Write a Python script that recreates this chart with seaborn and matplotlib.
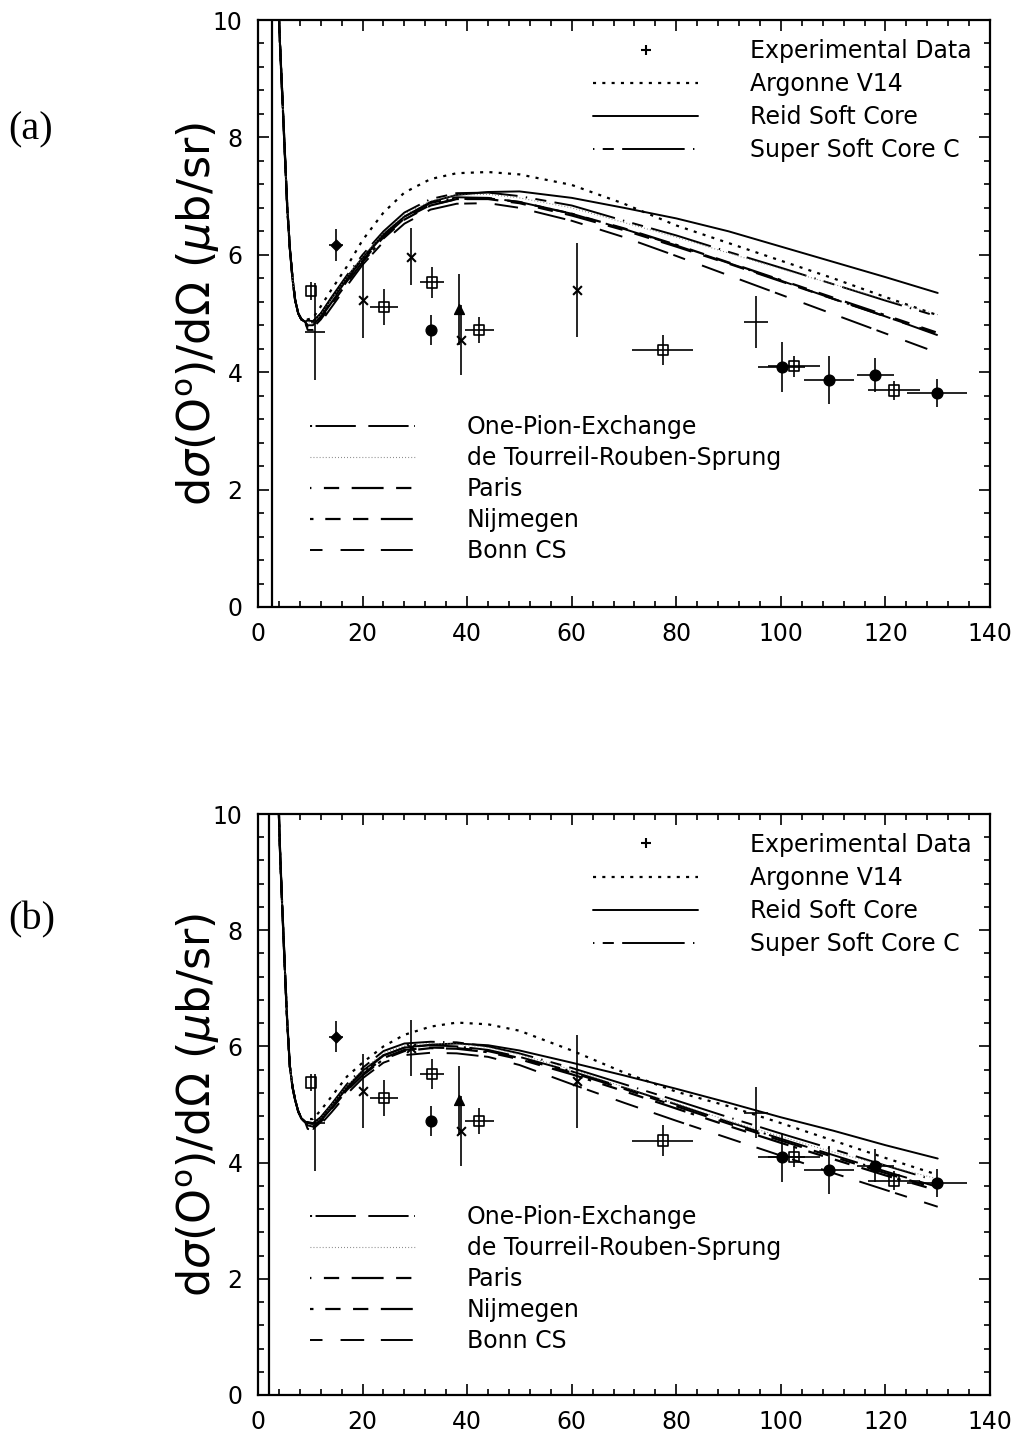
import matplotlib
matplotlib.use("Agg")
import matplotlib.pyplot as plt
import numpy as np
import pandas as pd
import seaborn as sns
from matplotlib.lines import Line2D
from matplotlib.ticker import MultipleLocator

# ---------------- data ----------------
MODELS = ["Argonne V14", "Reid Soft Core", "Super Soft Core C",
          "One-Pion-Exchange", "de Tourreil-Rouben-Sprung",
          "Paris", "Nijmegen", "Bonn CS"]

# steep low-angle wall shared by all models
WALL_X = [3.9, 4.2, 4.5, 4.85, 5.2, 5.6, 6.1, 6.6, 7.1, 7.7, 8.3, 9.0]
WALL_Y_A = [10.3, 9.6, 9.0, 8.3, 7.6, 6.8, 6.1, 5.6, 5.23, 5.0, 4.9, 4.86]
WALL_Y_B = [10.3, 9.4, 8.7, 7.95, 7.2, 6.4, 5.65, 5.3, 5.08, 4.88, 4.76, 4.7]

MODEL_X = [9.5, 10.5, 12, 14, 17, 20, 24, 28, 33, 38, 44, 50, 60, 70, 80, 90, 100, 110, 120, 130]

CURVES_A = {
    "Argonne V14":       [4.90, 4.92, 5.12, 5.40, 5.80, 6.25, 6.72, 7.06, 7.29, 7.39, 7.41, 7.37, 7.19, 6.87, 6.50, 6.20, 5.90, 5.60, 5.28, 4.97],
    "Reid Soft Core":    [4.88, 4.87, 5.00, 5.25, 5.62, 5.95, 6.35, 6.65, 6.90, 7.02, 7.07, 7.08, 6.97, 6.80, 6.62, 6.40, 6.14, 5.88, 5.62, 5.35],
    "Super Soft Core C": [4.85, 4.85, 5.00, 5.27, 5.65, 6.00, 6.40, 6.72, 6.95, 7.05, 7.06, 7.00, 6.84, 6.58, 6.33, 6.05, 5.78, 5.50, 5.22, 4.95],
    "One-Pion-Exchange": [4.80, 4.80, 4.95, 5.20, 5.58, 5.93, 6.33, 6.65, 6.88, 6.98, 6.97, 6.90, 6.70, 6.44, 6.16, 5.86, 5.56, 5.25, 4.95, 4.63],
    "de Tourreil-Rouben-Sprung": [4.84, 4.84, 4.98, 5.24, 5.62, 5.97, 6.37, 6.69, 6.92, 7.02, 7.03, 6.97, 6.80, 6.55, 6.30, 6.03, 5.76, 5.50, 5.24, 4.98],
    "Paris":             [4.78, 4.78, 4.93, 5.18, 5.55, 5.90, 6.30, 6.62, 6.85, 6.95, 6.95, 6.88, 6.67, 6.42, 6.14, 5.85, 5.55, 5.25, 4.95, 4.65],
    "Nijmegen":          [4.75, 4.76, 4.90, 5.15, 5.52, 5.88, 6.28, 6.60, 6.84, 6.95, 6.96, 6.90, 6.70, 6.45, 6.17, 5.87, 5.57, 5.27, 4.97, 4.67],
    "Bonn CS":           [4.72, 4.72, 4.85, 5.10, 5.47, 5.83, 6.22, 6.53, 6.77, 6.87, 6.88, 6.80, 6.58, 6.30, 5.98, 5.65, 5.32, 4.99, 4.66, 4.33],
}

CURVES_B = {
    "Argonne V14":       [4.75, 4.75, 4.90, 5.13, 5.48, 5.72, 6.00, 6.20, 6.34, 6.41, 6.38, 6.27, 5.93, 5.55, 5.22, 4.97, 4.68, 4.38, 4.08, 3.79],
    "Reid Soft Core":    [4.70, 4.68, 4.78, 4.98, 5.30, 5.58, 5.85, 5.98, 6.03, 6.05, 6.02, 5.93, 5.72, 5.50, 5.27, 5.03, 4.78, 4.55, 4.30, 4.07],
    "Super Soft Core C": [4.68, 4.66, 4.78, 5.00, 5.35, 5.63, 5.92, 6.05, 6.08, 6.07, 6.00, 5.88, 5.63, 5.35, 5.07, 4.78, 4.50, 4.23, 3.95, 3.68],
    "One-Pion-Exchange": [4.64, 4.62, 4.74, 4.95, 5.28, 5.55, 5.84, 5.98, 6.02, 6.00, 5.94, 5.82, 5.57, 5.29, 5.00, 4.70, 4.41, 4.13, 3.85, 3.58],
    "de Tourreil-Rouben-Sprung": [4.66, 4.64, 4.76, 4.98, 5.32, 5.60, 5.88, 6.02, 6.05, 6.04, 5.98, 5.86, 5.60, 5.30, 5.02, 4.72, 4.45, 4.18, 3.95, 3.72],
    "Paris":             [4.62, 4.60, 4.72, 4.93, 5.25, 5.52, 5.80, 5.94, 5.98, 5.97, 5.92, 5.80, 5.55, 5.27, 4.97, 4.67, 4.38, 4.10, 3.82, 3.55],
    "Nijmegen":          [4.60, 4.58, 4.70, 4.92, 5.24, 5.50, 5.78, 5.92, 5.97, 5.96, 5.90, 5.78, 5.52, 5.23, 4.93, 4.63, 4.34, 4.06, 3.78, 3.52],
    "Bonn CS":           [4.58, 4.56, 4.66, 4.86, 5.18, 5.45, 5.72, 5.85, 5.89, 5.88, 5.82, 5.68, 5.35, 5.03, 4.72, 4.42, 4.12, 3.82, 3.53, 3.24],
}

VLINE_X = [2.6, 2.1]

EXP_X = [10.1, 10.9, 14.9, 20.0, 24.1, 29.3, 33.3, 33.0, 38.5, 38.8, 42.3, 61.0, 77.4, 95.3, 100.2, 102.5, 109.2, 118.1, 121.7, 129.9]
EXP_Y = [5.38, 4.69, 6.17, 5.23, 5.11, 5.97, 5.53, 4.72, 5.07, 4.55, 4.72, 5.40, 4.38, 4.86, 4.09, 4.10, 3.87, 3.95, 3.69, 3.65]
EXP_YERR = [0.15, 0.83, 0.27, 0.64, 0.31, 0.48, 0.26, 0.26, 0.60, 0.60, 0.22, 0.80, 0.26, 0.44, 0.42, 0.18, 0.41, 0.29, 0.16, 0.24]
EXP_XERR = [0.0, 2.0, 1.3, 0.0, 2.6, 0.0, 2.3, 0.0, 0.0, 0.0, 2.8, 0.0, 5.8, 2.3, 4.5, 5.0, 4.8, 3.6, 5.0, 5.7]
EXP_KIND = ["box", "plain", "star", "x", "box", "x", "box", "filled", "tri", "x",
            "box", "x", "box", "plain", "filled", "box", "filled", "filled", "box", "filled"]

YLABEL = r"d$\sigma$(O$^{\rm o}$)/d$\Omega$ ($\mu$b/sr)"
PANEL_LABELS = ["(a)", "(b)"]

# ---------------- styles ----------------
STYLE = {
    "Argonne V14":       dict(ls=(0, (2.2, 4.5)), lw=1.6, color="black"),
    "Reid Soft Core":    dict(ls="-", lw=1.4, color="black"),
    "Super Soft Core C": dict(ls=(0, (1, 6, 8, 6, 45, 6)), lw=1.4, color="black"),
    "One-Pion-Exchange": dict(ls=(0, (1.5, 2.5, 29, 9, 29, 4)), lw=1.4, color="black"),
    "de Tourreil-Rouben-Sprung": dict(ls=(0, (0.6, 1.6)), lw=0.8, color="#777777"),
    "Paris":             dict(ls=(10, (11, 9, 11, 9, 23, 9)), lw=1.6, color="black"),
    "Nijmegen":          dict(ls=(0, (2.5, 8.5, 11, 9, 11, 9, 23, 4)), lw=1.6, color="black"),
    "Bonn CS":           dict(ls=(0, (9, 13, 17, 12, 23, 4)), lw=1.4, color="black"),
}
MARK = {
    "box":    dict(marker="s", s=55, facecolor="none", edgecolor="black", linewidth=1.2),
    "plain":  None,
    "star":   dict(marker="D", s=30, facecolor="black", edgecolor="black", linewidth=1.0),
    "x":      dict(marker="x", s=40, color="black", linewidth=1.5),
    "filled": dict(marker="o", s=60, facecolor="black", edgecolor="black", linewidth=1.0),
    "tri":    dict(marker="^", s=50, facecolor="black", edgecolor="black", linewidth=1.0),
}

sns.set_style("ticks")
plt.rcParams["font.family"] = ["DejaVu Sans"]
plt.rcParams["mathtext.fontset"] = "dejavusans"
plt.rcParams["lines.scale_dashes"] = False
for k in ["text.color", "axes.labelcolor", "xtick.color", "ytick.color", "axes.edgecolor"]:
    plt.rcParams[k] = "black"

fig = plt.figure(figsize=(10.17, 14.44), dpi=100)
W, H = 1017.0, 1444.0
axA = fig.add_axes([258 / W, 1 - 607 / H, 732 / W, 587 / H])
axB = fig.add_axes([258 / W, 1 - 1395 / H, 732 / W, 581 / H])

exp_df = pd.DataFrame({"x": EXP_X, "y": EXP_Y, "kind": EXP_KIND})


def draw(ax, curves, wall_y, vx, plabel, label_y):
    for name in MODELS:
        df = pd.DataFrame({"x": WALL_X + MODEL_X, "y": wall_y + curves[name]})
        st = STYLE[name]
        sns.lineplot(data=df, x="x", y="y", ax=ax, estimator=None, sort=False,
                     color=st["color"], linewidth=st["lw"], linestyle=st["ls"])
    ax.axvline(vx, color="black", lw=1.6)
    ax.errorbar(EXP_X, EXP_Y, yerr=EXP_YERR, xerr=EXP_XERR, fmt="none",
                ecolor="black", elinewidth=1.2, capsize=0)
    for kind, mk in MARK.items():
        if mk is None:
            continue
        sub = exp_df[exp_df["kind"] == kind]
        sns.scatterplot(data=sub, x="x", y="y", ax=ax, zorder=5, legend=False, **mk)

    ax.set_xlim(0, 140)
    ax.set_ylim(0, 10)
    ax.xaxis.set_major_locator(MultipleLocator(20))
    ax.xaxis.set_minor_locator(MultipleLocator(4))
    ax.yaxis.set_major_locator(MultipleLocator(2))
    ax.yaxis.set_minor_locator(MultipleLocator(0.4))
    ax.tick_params(which="both", direction="in", top=True, right=True,
                   width=1.2, labelsize=17, pad=11, colors="black")
    ax.tick_params(which="major", length=8)
    ax.tick_params(which="minor", length=4)
    for sp in ax.spines.values():
        sp.set_linewidth(1.6)
        sp.set_color("black")
    ax.set_xlabel("")
    ax.set_ylabel(YLABEL, fontsize=32)
    ax.yaxis.set_label_coords(-0.049, 0.5)

    h1 = [Line2D([], [], marker="+", ls="none", color="black", ms=7, mew=1.5)]
    for name in MODELS[:3]:
        st = STYLE[name]
        h1.append(Line2D([], [], color=st["color"], lw=st["lw"], ls=st["ls"]))
    leg1 = ax.legend(h1, ["Experimental Data"] + MODELS[:3], loc="upper left",
                     bbox_to_anchor=(0.458, 0.968), frameon=False, fontsize=17,
                     handlelength=4.45, handletextpad=2.2, labelspacing=0.39,
                     borderpad=0, borderaxespad=0)
    ax.add_artist(leg1)
    h2 = []
    for name in MODELS[3:]:
        st = STYLE[name]
        h2.append(Line2D([], [], color=st["color"], lw=st["lw"], ls=st["ls"]))
    ax.legend(h2, MODELS[3:], loc="upper left", bbox_to_anchor=(0.071, 0.327),
              frameon=False, fontsize=17, handlelength=4.45, handletextpad=2.2,
              labelspacing=0.30, borderpad=0, borderaxespad=0)

    fig.text(8 / W, 1 - label_y / H, plabel, fontsize=29,
             family=["Liberation Serif", "DejaVu Serif"], va="center", ha="left")


draw(axA, CURVES_A, WALL_Y_A, VLINE_X[0], PANEL_LABELS[0], 130)
draw(axB, CURVES_B, WALL_Y_B, VLINE_X[1], PANEL_LABELS[1], 920)

fig.savefig("out.png", dpi=100)
